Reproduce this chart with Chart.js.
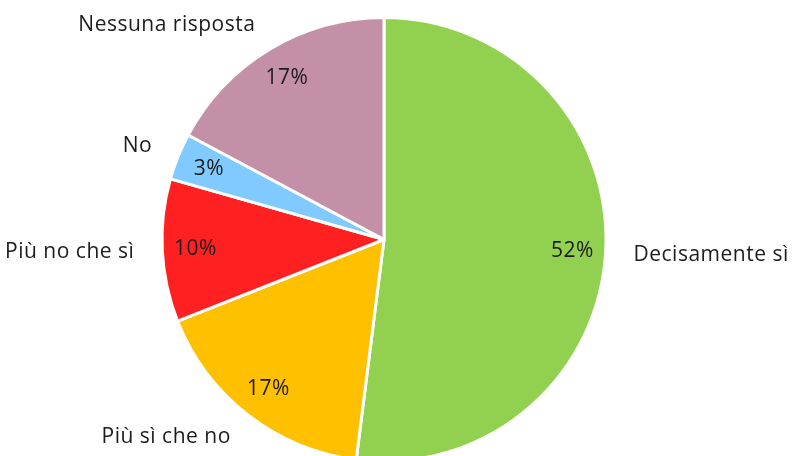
<!DOCTYPE html>
<html>
<head>
<meta charset="utf-8">
<script src="https://cdn.jsdelivr.net/npm/chart.js@4"></script>
<style>
  html, body { margin: 0; padding: 0; background: #fff; }
  #wrap { width: 796px; height: 456px; overflow: hidden; }
</style>
</head>
<body>
<div id="wrap"><canvas id="pie" width="796" height="480"></canvas></div>
<script>
// answers, in clockwise order from 12 o'clock
const labels = ['Decisamente sì', 'Più sì che no', 'Più no che sì', 'No', 'Nessuna risposta'];
const values = [52, 17, 10.4, 3.4, 17.2];
const colors = ['#92D050', '#FFC000', '#FF2121', '#80CAFF', '#C490A8'];

const textFont = '21px "Open Sans"';
const textColor = '#1c1c1c';

const total = values.reduce((a, b) => a + b, 0);

// draws % inside each slice and the category name just outside it
const sliceLabels = {
    id: 'sliceLabels',
    afterDatasetsDraw(chart) {
        const ctx = chart.ctx;
        const arcs = chart.getDatasetMeta(0).data;
        ctx.save();
        ctx.font = textFont;
        ctx.letterSpacing = '0.5px';
        ctx.fillStyle = textColor;
        ctx.textBaseline = 'middle';
        arcs.forEach((arc, i) => {
            const p = arc.getProps(['x', 'y', 'startAngle', 'endAngle', 'outerRadius'], true);
            const mid = (p.startAngle + p.endAngle) / 2;
            const dx = Math.cos(mid), dy = Math.sin(mid);

            let r = p.outerRadius * 0.85;
            ctx.textAlign = 'center';
            ctx.fillText(Math.round(values[i] / total * 100) + '%', p.x + dx * r, p.y + dy * r);

            r = p.outerRadius + 28;
            ctx.textAlign = dx < 0 ? 'right' : 'left';
            ctx.fillText(labels[i], p.x + dx * r, p.y + dy * r);
        });
        ctx.restore();
    }
};

const ctx = document.getElementById('pie').getContext('2d');
const chart = new Chart(ctx, {
    type: 'pie',
    data: {
        labels: labels,
        datasets: [{
            data: values,
            backgroundColor: colors,
            borderColor: '#fff',
            borderWidth: 3
        }]
    },
    options: {
        responsive: false,
        animation: false,
        layout: { padding: { top: 16, bottom: 17, left: 0, right: 28 } },
        plugins: {
            legend: { display: false },
            tooltip: { enabled: false }
        }
    },
    plugins: [sliceLabels]
});
</script>
</body>
</html>
